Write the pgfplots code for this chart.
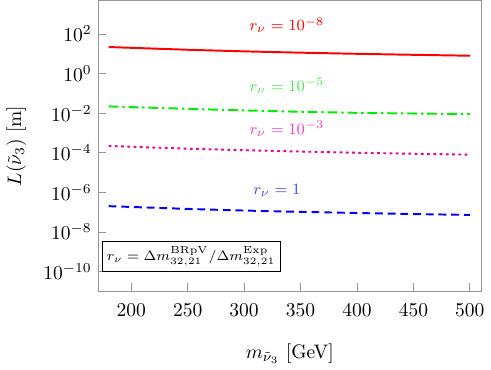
\documentclass[border=0pt]{standalone}
\usepackage{pgfplots}
\pgfplotsset{compat=1.18}
\usepackage{amsmath}
\definecolor{frame}{RGB}{150,150,150}
\definecolor{mygreen}{RGB}{0,235,0}
\definecolor{labgreen}{RGB}{80,230,80}
\definecolor{labmag}{RGB}{240,60,200}
\definecolor{labblue}{RGB}{70,70,240}
\begin{document}
\begin{tikzpicture}
\begin{axis}[
  width=196pt, height=149pt, scale only axis,
  ymode=log,
  xmin=171, xmax=510,
  ymin=1e-11, ymax=5e3,
  xtick={200,250,...,500},
  ytick={1e-10,1e-8,1e-6,1e-4,1e-2,1,1e2},
  minor ytick={},
  yminorticks=false,
  tick pos=left,
  tick align=inside,
  axis line style={frame},
  every tick/.style={frame},
  major tick length=4pt,
  xticklabel style={yshift=-3pt},
  xlabel={$m_{\tilde\nu_3}$ [GeV]},
  ylabel={$L(\tilde\nu_3)$ [m]},
  xlabel style={yshift=-7pt},
  ylabel style={yshift=2pt},
]
\addplot[red, line width=1pt] coordinates {(180,22) (250,16) (300,13.3) (350,11.4) (400,10) (450,8.9) (500,8.0)};
\addplot[mygreen, line width=1pt, dash pattern=on 5pt off 2pt on 1.2pt off 2pt] coordinates {(180,0.022) (250,0.0165) (300,0.0138) (350,0.0118) (400,0.0104) (450,0.0096) (500,0.009)};
\addplot[magenta, line width=1pt, dash pattern=on 1.4pt off 1.8pt] coordinates {(180,2.2e-4) (250,1.6e-4) (300,1.35e-4) (350,1.15e-4) (400,1.0e-4) (450,0.89e-4) (500,0.8e-4)};
\addplot[blue, line width=1pt, dash pattern=on 4pt off 2.5pt] coordinates {(180,2.0e-7) (250,1.45e-7) (300,1.2e-7) (350,1.03e-7) (400,0.9e-7) (450,0.8e-7) (500,0.72e-7)};
\node[red, font=\footnotesize] at (axis cs:338,280) {$r_\nu=10^{-8}$};
\node[labgreen, font=\footnotesize] at (axis cs:338,0.25) {$r_\nu=10^{-5}$};
\node[labmag, font=\footnotesize] at (axis cs:338,1.6e-3) {$r_\nu=10^{-3}$};
\node[labblue, font=\footnotesize] at (axis cs:329,1.26e-6) {$r_\nu=1$};
\node[draw=black, fill=white, font=\fontsize{7.5}{9}\selectfont, inner sep=2.5pt] at (axis cs:253,5.6e-10)
  {$r_\nu=\Delta m^{\text{BRpV}}_{32,21}/\Delta m^{\text{Exp}}_{32,21}$};
\end{axis}
\end{tikzpicture}
\end{document}
